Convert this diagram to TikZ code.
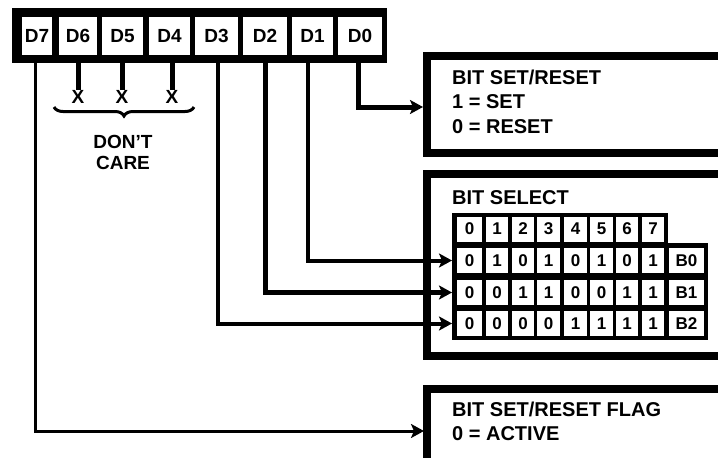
\documentclass[tikz,border=0pt]{standalone}
\usepackage{fontspec}
\setmainfont{Liberation Sans}
\usetikzlibrary{arrows.meta,decorations.pathreplacing}
\begin{document}
\begin{tikzpicture}[x=1pt,y=-1pt,
  lbl/.style={font=\bfseries\fontsize{19}{19}\selectfont, inner sep=0pt},
  boxtxt/.style={font=\bfseries\fontsize{20}{20}\selectfont, inner sep=0pt, anchor=west},
  tabtxt/.style={font=\bfseries\fontsize{17}{17}\selectfont, inner sep=0pt, fill=white, minimum height=25pt},
  regcell/.style={fill=white, inner sep=0pt, minimum height=38pt, font=\bfseries\fontsize{19}{19}\selectfont},
  frame/.style={line width=8pt, miter limit=10},
  conn/.style={line width=#1, -{Stealth[length=13pt,width=14pt,inset=3pt]}},
  conn/.default=4pt,
  stub/.style={line width=5pt}
]
\useasboundingbox (0,0) rectangle (718,458);
\clip (0,0) rectangle (718,458);

% register
\node[fill=black, inner sep=0pt, minimum width=375pt, minimum height=55pt] (reg) at (199.5,35.5) {};
\node[regcell, minimum width=30pt] (d7) at (37,36) {D7};
\node[regcell, minimum width=38pt] (d6) at (78,36) {D6};
\node[regcell, minimum width=41pt] (d5) at (122.5,36) {D5};
\node[regcell, minimum width=41pt] (d4) at (169.5,36) {D4};
\node[regcell, minimum width=43pt] (d3) at (216.5,36) {D3};
\node[regcell, minimum width=44pt] (d2) at (265,36) {D2};
\node[regcell, minimum width=41pt] (d1) at (312.5,36) {D1};
\node[regcell, minimum width=44pt] (d0) at (360,36) {D0};

% bit exits at the register bottom
\coordinate (e7) at (35,61);
\coordinate (e6) at (78,61);
\coordinate (e5) at (122,61);
\coordinate (e4) at (172,61);
\coordinate (e3) at (218,61);
\coordinate (e2) at (265,61);
\coordinate (e1) at (308,61);
\coordinate (e0) at (358,61);

% don't care
\node[lbl] (x6) at (78,97) {X};
\node[lbl] (x5) at (122,97) {X};
\node[lbl] (x4) at (172,97) {X};
\draw[stub] (e6) -- (x6.north);
\draw[stub] (e5) -- (x5.north);
\draw[stub] (e4) -- (x4.north);
\coordinate (brL) at (54,107);
\coordinate (brR) at (194,107);
\draw[line width=3pt, decorate, decoration={brace, amplitude=9pt, mirror}] (brL) -- (brR);
\node[lbl, align=center] (dc) at (123,152) {DON{\char"27}T\\[2pt]CARE};

% boxes
\draw[frame] (740,56) -- (427,56) -- (427,153) -- (740,153);
\draw[frame] (740,174) -- (427,174) -- (427,356) -- (740,356);
\draw[frame] (740,389) -- (427,389) -- (427,480);
\coordinate (in1) at (423,107);
\coordinate (in3) at (424,431);

\node[boxtxt] (t1a) at (452,77) {BIT SET/RESET};
\node[boxtxt] (t1b) at (452,102) {1 = SET};
\node[boxtxt] (t1c) at (452,127) {0 = RESET};
\node[boxtxt] (t2a) at (452,198) {BIT SELECT};
\node[boxtxt] (t3a) at (452,409) {BIT SET/RESET FLAG};
\node[boxtxt] (t3b) at (452,434) {0 = ACTIVE};

% table
\fill (452,213) rectangle (668,244);
\fill (452,243) rectangle (708,340);
\foreach \cx/\w [count=\i from 0] in {469.5/25,497/22,523/22,548.5/23,575.5/23,601.5/23,627/22,653/22}{
  \node[tabtxt, minimum width=\w pt] (h\i) at (\cx,229) {\i};
}
\foreach \r/\ry/\vals in {0/260.5/{0,1,0,1,0,1,0,1}, 1/292.5/{0,0,1,1,0,0,1,1}, 2/323.5/{0,0,0,0,1,1,1,1}}{
  \foreach \v [count=\c from 0] in \vals {
    \pgfmathsetmacro{\cx}{{469.5,497,523,548.5,575.5,601.5,627,653}[\c]}
    \pgfmathsetmacro{\w}{{25,22,22,23,23,23,22,22}[\c]}
    \node[tabtxt, minimum width=\w pt] (c\r\c) at (\cx,\ry) {\v};
  }
  \node[tabtxt, minimum width=35pt] (b\r) at (686.5,\ry) {B\r};
}
\coordinate (a0) at (452,260.5);
\coordinate (a1) at (452,292.5);
\coordinate (a2) at (452,323.5);

% connectors
\draw[conn=5pt] (e0) |- (in1);
\draw[conn=4pt] (e1) |- (a0);
\draw[conn=5pt] (e2) |- (a1);
\draw[conn=4pt] (e3) |- (a2);
\draw[conn=3pt] (e7) |- (in3);
\end{tikzpicture}
\end{document}
